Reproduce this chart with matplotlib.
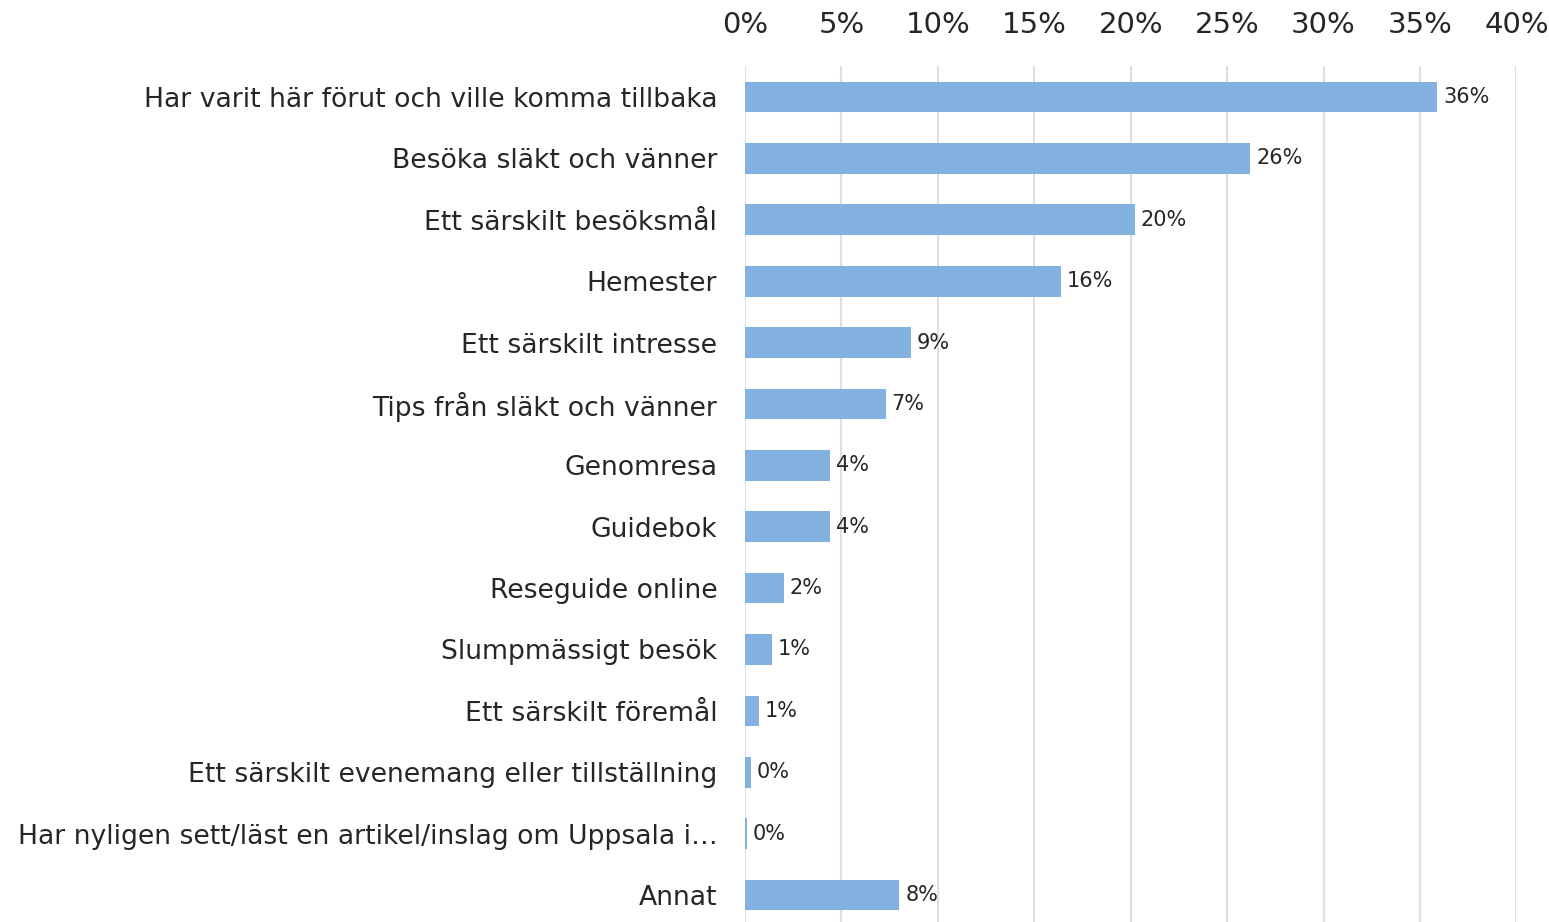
import matplotlib
matplotlib.use("Agg")
import matplotlib.pyplot as plt
from matplotlib.ticker import PercentFormatter

# Reasons for visiting (survey answers, share of respondents)
categories = ["Har varit här förut och ville komma tillbaka",
              "Besöka släkt och vänner",
              "Ett särskilt besöksmål",
              "Hemester",
              "Ett särskilt intresse",
              "Tips från släkt och vänner",
              "Genomresa",
              "Guidebok",
              "Reseguide online",
              "Slumpmässigt besök",
              "Ett särskilt föremål",
              "Ett särskilt evenemang eller tillställning",
              "Har nyligen sett/läst en artikel/inslag om Uppsala i…",
              "Annat"]
values = [35.9, 26.2, 20.2, 16.4, 8.6, 7.3, 4.4, 4.4, 2.0, 1.4, 0.7, 0.3, 0.1, 8.0]
labels = ["36%", "26%", "20%", "16%", "9%", "7%", "4%", "4%", "2%", "1%", "1%", "0%", "0%", "8%"]
xticks = [0, 5, 10, 15, 20, 25, 30, 35, 40]

plt.rcParams['font.family'] = ['DejaVu Sans']
text_col = '#262626'

fig = plt.figure(figsize=(15.49, 9.22), dpi=100)
ax = fig.add_axes([0.481, -0.004, 0.498, 0.932])

ypos = list(range(len(categories)))
ax.barh(ypos, values, height=0.5, color='#84B2E0', zorder=2)
for y, v, lab in zip(ypos, values, labels):
    ax.text(v + 0.3, y, lab, va='center', ha='left', fontsize=15, color=text_col)

ax.set_xlim(0, 40)
ax.set_ylim(len(categories) - 0.5, -0.5)
ax.set_xticks(xticks)
ax.xaxis.set_major_formatter(PercentFormatter(decimals=0))
ax.xaxis.tick_top()
ax.set_yticks(ypos)
ax.set_yticklabels(categories)
ax.tick_params(axis='x', length=0, pad=20, labelsize=21, labelcolor=text_col)
ax.tick_params(axis='y', length=0, pad=20, labelsize=19.2, labelcolor=text_col)
ax.grid(axis='x', color='#DADFE8', linewidth=1.5, zorder=0)
ax.set_axisbelow(True)
for s in ax.spines.values():
    s.set_visible(False)

fig.savefig('out.png', dpi=100)
